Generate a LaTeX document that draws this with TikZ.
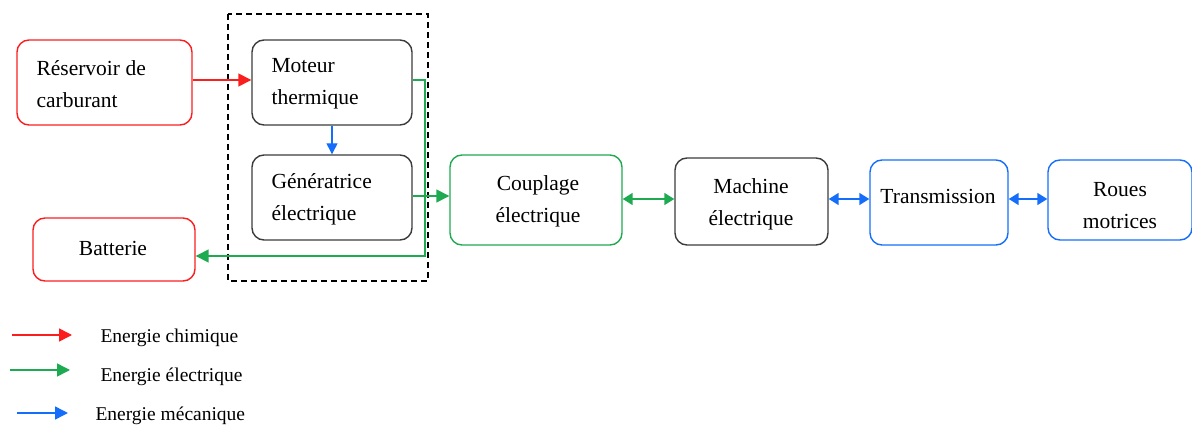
\documentclass[tikz,border=0pt]{standalone}
\usepackage{fontspec}
\setmainfont{Liberation Serif}
\usetikzlibrary{arrows.meta}
\definecolor{cred}{RGB}{250,30,30}
\definecolor{cgreen}{RGB}{30,170,80}
\definecolor{cblue}{RGB}{20,110,250}
\definecolor{cgray}{RGB}{60,60,60}
\begin{document}
\begin{tikzpicture}[x=1pt,y=-1pt,
  txt/.style={font=\fontsize{21.5}{32}\selectfont},
  ltxt/.style={font=\fontsize{19.5}{22}\selectfont, anchor=west},
  blk/.style={draw, rounded corners=12pt, line width=1.4pt, inner sep=0pt},
  arr/.style={line width=1.5pt, -{Triangle[length=13pt,width=13pt]}},
  darr/.style={line width=1.5pt, {Triangle[length=10pt,width=12pt]}-{Triangle[length=10pt,width=12pt]}}]
\useasboundingbox (0,0) rectangle (1192,428);
% dashed group
\draw[dash pattern=on 6pt off 4pt, line width=1.2pt] (228,14) rectangle (428,281);
% boxes
\node[blk, cred, minimum width=175pt, minimum height=85pt] (res) at (104.5,82.5) {};
\node[txt, anchor=west, align=left] at (33,84) {Réservoir de\\carburant};
\node[blk, cgray, minimum width=160pt, minimum height=85pt] (mot) at (332,82.5) {};
\node[txt, anchor=west, align=left] at (268,84) {Moteur\\thermique};
\node[blk, cgray, minimum width=160pt, minimum height=85pt] (gen) at (332,197.5) {};
\node[txt, anchor=west, align=left] at (268,199) {Génératrice\\électrique};
\node[blk, cred, minimum width=162pt, minimum height=63pt] (bat) at (114,249.5) {};
\node[txt] at (113,248) {Batterie};
\node[blk, cgreen, minimum width=172pt, minimum height=90pt] (cou) at (536,200) {};
\node[txt, align=center] at (538,201) {Couplage\\électrique};
\node[blk, cgray, minimum width=153pt, minimum height=87pt] (mac) at (751.5,201.5) {};
\node[txt, align=center] at (751,204) {Machine\\électrique};
\node[blk, cblue, minimum width=138pt, minimum height=85pt] (tra) at (939,202.5) {};
\node[txt] at (938,196) {Transmission};
\node[blk, cblue, minimum width=144pt, minimum height=80pt] (rou) at (1120,200) {};
\node[txt, align=center] at (1120,206) {Roues\\motrices};
% connectors
\draw[arr, cred] (res.east |- 0,80) -- (mot.west |- 0,80);
\draw[blue, line width=1.3pt, -{Triangle[length=11pt,width=11pt]}, cblue] (mot.south) -- (gen.north);
\coordinate (g1) at (425,80);
\coordinate (g2) at (425,256);
\draw[arr, cgreen] (mot.east |- g1) -- (g1) -- (g2) -- (bat.east |- g2);
\draw[arr, cgreen] (gen.east |- 0,196) -- (cou.west |- 0,196);
\draw[darr, cgreen] (cou.east |- 0,199) -- (mac.west |- 0,199);
\draw[darr, cblue] (mac.east |- 0,199) -- (tra.west |- 0,199);
\draw[darr, cblue] (tra.east |- 0,199) -- (rou.west |- 0,199);
% legend
\coordinate (l1a) at (12,335); \coordinate (l1b) at (72,335);
\coordinate (l2a) at (10,370); \coordinate (l2b) at (70,370);
\coordinate (l3a) at (17,413); \coordinate (l3b) at (68,413);
\draw[arr, cred] (l1a) -- (l1b);
\draw[arr, cgreen] (l2a) -- (l2b);
\draw[arr, cblue] (l3a) -- (l3b);
\node[ltxt] (t1) at (97,338) {Energie chimique};
\node[ltxt] (t2) at (97,377) {Energie électrique};
\node[ltxt] (t3) at (92,416) {Energie mécanique};
\end{tikzpicture}
\end{document}
